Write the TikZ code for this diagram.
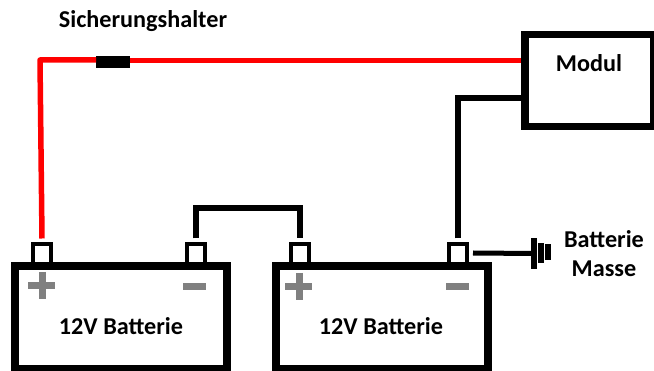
\documentclass[tikz,border=0pt]{standalone}
\usepackage{fontspec}
\setmainfont{Carlito}
\usetikzlibrary{positioning}

\begin{document}
\begin{tikzpicture}[x=1pt,y=-1pt,every node/.style={inner sep=0pt,outer sep=0pt}]
            \tikzset{battery/.style={draw,line width=7.5pt,minimum width=212pt,minimum height=103pt}}
            \tikzset{terminal/.style={draw,line width=4pt,minimum width=18pt,minimum height=20pt}}
            \tikzset{wire/.style={line width=6pt}}
            \tikzset{redwire/.style={wire,red,line width=5.5pt,line join=round}}
            \tikzset{sign/.style={line width=7pt,color=gray}}
            \tikzset{plate/.style={fill=black,minimum width=6pt}}
            \tikzset{caption/.style={font=\bfseries\fontsize{24.2}{28}\selectfont}}
            \useasboundingbox (0,0) rectangle (654,371);
            \node[terminal]            (t1) at (42,254)   {};
            \node[terminal]            (t2) at (196,254)  {};
            \node[terminal]            (t3) at (300,254)  {};
            \node[terminal]            (t4) at (458,254)  {};
            \node[battery]             (b1) at (121,317.5) {};
            \node[battery]             (b2) at (382,317.5) {};
            \node[draw,line width=7.5pt,minimum width=129pt,minimum height=92pt] (modul) at (589.5,80.5) {};
            \node[fill=black,minimum width=34pt,minimum height=12pt] (fuse) at (113,62) {};
            \node[plate,minimum height=31pt] (g1) at (534,253.5) {};
            \node[plate,minimum height=20pt] (g2) at (541,253) {};
            \node[plate,minimum height=16pt] (g3) at (548,252) {};
            \coordinate (redtop) at (40,60);
            \coordinate (modred) at (521,60.5);
            \coordinate (modblack) at (521,98);
            \coordinate (groundout) at (473,253);
            % wires
            \draw[redwire] ([yshift=5.5pt]t1.north) -- (redtop) -- (fuse.west |- redtop);
            \draw[redwire] (fuse.east |- modred) -- (modred);
            \draw[wire] ([yshift=5.5pt]t4.north) |- (modblack);
            \draw[wire] ([yshift=5.5pt]t2.north) -- ++(0,-30.5) -| ([yshift=5.5pt]t3.north);
            \draw[line width=5pt] (groundout) -- (g1);
            % plus and minus
            \draw[sign] (42,272) -- (42,299) (28,286) -- (55,286);
            \draw[sign] (299,273) -- (299,300) (285,287) -- (312,287);
            \draw[sign] (183,286.5) -- (206,286.5);
            \draw[sign] (446,286.5) -- (469,286.5);
            % labels
            \node[caption] (lb1) at (121,326) {12V Batterie};
            \node[caption] (lb2) at (381,326) {12V Batterie};
            \node[caption] (lm)  at (589,63)  {Modul};
            \node[caption] (ls)  at (143,21)  {Sicherungshalter};
            \node[caption] (lg1) at (604,239) {Batterie};
            \node[caption] (lg2) at (604,269) {Masse};
        \end{tikzpicture}
\end{document}
